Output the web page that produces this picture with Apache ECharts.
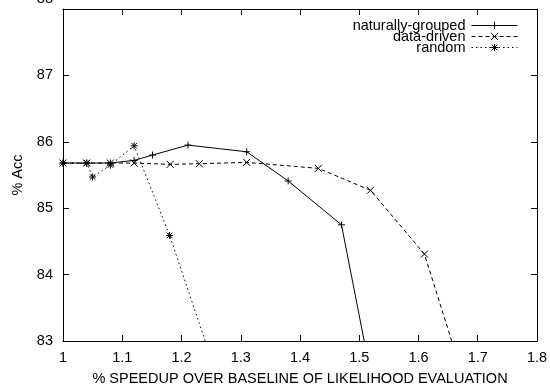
<!DOCTYPE html>
<html>
<head>
<meta charset="utf-8">
<script src="https://cdn.jsdelivr.net/npm/echarts@6/dist/echarts.min.js"></script>
<style>
  html, body { margin: 0; padding: 0; background: #fff; }
  #chart { width: 550px; height: 389px; }
</style>
</head>
<body>
<div id="chart"></div>
<script>
// values: [speedup, % acc]
// last point of each series sits below 83, so the line runs out of the frame
var naturallyGrouped = [
  [1.0, 85.68], [1.04, 85.68], [1.08, 85.68], [1.12, 85.72], [1.151, 85.80],
  [1.211, 85.95], [1.31, 85.85], [1.38, 85.41], [1.47, 84.75], [1.52, 82.47]
];
var dataDriven = [
  [1.0, 85.68], [1.04, 85.68], [1.08, 85.68], [1.12, 85.68], [1.181, 85.66],
  [1.23, 85.67], [1.31, 85.69], [1.431, 85.60], [1.519, 85.27], [1.61, 84.31], [1.68, 82.32]
];
var randomGroup = [
  [1.0, 85.68], [1.04, 85.68], [1.05, 85.47], [1.08, 85.65], [1.12, 85.94],
  [1.18, 84.59], [1.26, 82.47]
];
var seriesNames = ['naturally-grouped', 'data-driven', 'random'];

// gnuplot-ish point types (open paths, drawn by the border stroke)
var plusPath = 'path://M0,-1L0,1M-1,0L1,0';
var crossPath = 'path://M-1,-1L1,1M-1,1L1,-1';
var starPath = 'path://M0,-1L0,1M-1,0L1,0M-0.8,-0.8L0.8,0.8M-0.8,0.8L0.8,-0.8';

var font = 'Liberation Sans, Arial, sans-serif';
var fontSize = 14.5;
var black = '#000';

var myChart = echarts.init(document.getElementById('chart'));

function makeSeries(name, data, symbol, type) {
  return {
    name: name,
    type: 'line',
    data: data,
    clip: true,
    symbol: symbol,
    symbolSize: 7,
    showSymbol: true,
    animation: false,
    lineStyle: { color: black, width: 1, type: type },
    itemStyle: { color: black, borderColor: black, borderWidth: 1 }
  };
}

// one legend per row so the rows can sit as tight as in the picture
function makeLegend(name, top) {
  return {
    data: [name],
    orient: 'vertical',
    right: 32,
    top: top,
    padding: 0,
    align: 'right',
    itemWidth: 46,
    itemHeight: 9,
    itemGap: 0,
    lineStyle: { width: 1 },
    itemStyle: { borderWidth: 1 },
    textStyle: { fontFamily: font, fontSize: fontSize, color: black, padding: [0, 1, 0, 0] }
  };
}

var axisBase = {
  axisLine: { show: true, onZero: false, lineStyle: { color: black, width: 1 } },
  axisTick: { show: true, inside: true, length: 6, lineStyle: { color: black } },
  splitLine: { show: false }
};

var option = {
  animation: false,
  // keep the frame fixed; labels may run off the canvas like in the picture
  grid: { left: 63, right: 13, top: 9, bottom: 48, outerBoundsMode: 'none' },
  legend: [
    makeLegend(seriesNames[0], 18),
    makeLegend(seriesNames[1], 29),
    makeLegend(seriesNames[2], 40)
  ],
  xAxis: [
    Object.assign({}, axisBase, {
      type: 'value', position: 'bottom', min: 1, max: 1.8, interval: 0.1,
      name: '% SPEEDUP OVER BASELINE OF LIKELIHOOD EVALUATION',
      nameLocation: 'middle', nameGap: 30,
      nameTextStyle: { fontFamily: font, fontSize: fontSize, color: black },
      axisLabel: { fontFamily: font, fontSize: fontSize, color: black, margin: 9 }
    }),
    Object.assign({}, axisBase, {
      type: 'value', position: 'top', min: 1, max: 1.8, interval: 0.1,
      axisLabel: { show: false }
    })
  ],
  yAxis: [
    Object.assign({}, axisBase, {
      type: 'value', position: 'left', min: 83, max: 88, interval: 1,
      name: '% Acc', nameLocation: 'middle', nameGap: 37,
      nameTextStyle: { fontFamily: font, fontSize: fontSize, color: black },
      axisLabel: {
        fontFamily: font, fontSize: fontSize, color: black, margin: 10, lineHeight: 20,
        // the top label sits half cut off above the frame in the picture
        formatter: function (v) { return v === 88 ? '88\n ' : String(v); }
      }
    }),
    Object.assign({}, axisBase, {
      type: 'value', position: 'right', min: 83, max: 88, interval: 1,
      axisLabel: { show: false }
    })
  ],
  series: [
    makeSeries(seriesNames[0], naturallyGrouped, plusPath, 'solid'),
    makeSeries(seriesNames[1], dataDriven, crossPath, [4, 3]),
    makeSeries(seriesNames[2], randomGroup, starPath, [1.5, 3])
  ]
};
option && myChart.setOption(option);
</script>
</body>
</html>
